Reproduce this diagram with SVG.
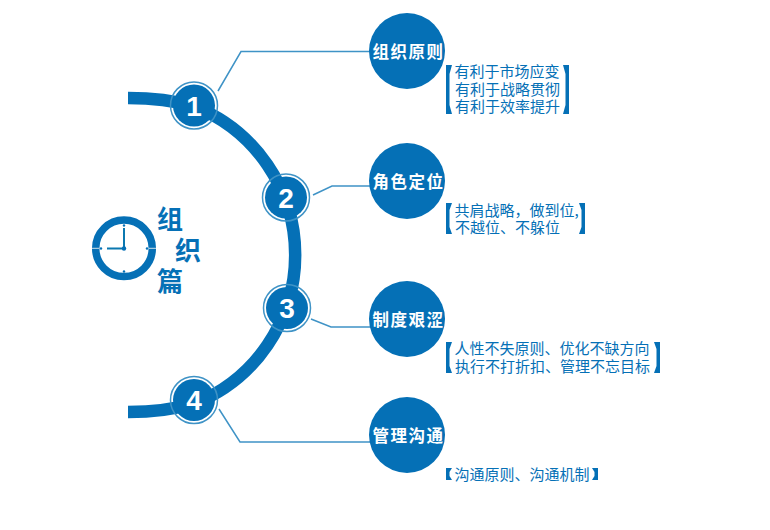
<svg xmlns="http://www.w3.org/2000/svg" width="770" height="530" viewBox="0 0 770 530">
<style>
.big{fill:#0570b6}
.ring{fill:none;stroke:#3f93c6;stroke-width:1.5}
.num{font-family:"Liberation Sans",sans-serif;font-weight:700;font-size:28px;fill:#fff;text-anchor:middle}
.title{font-family:"Noto Sans CJK SC",sans-serif;font-weight:700;font-size:16.500px;fill:#fff;text-anchor:middle;letter-spacing:1.500px}
.body{font-family:"Noto Sans CJK SC",sans-serif;font-size:15px;fill:#0570b6}
.head{font-family:"Noto Sans CJK SC",sans-serif;font-weight:700;font-size:26px;fill:#0570b6;text-anchor:middle}
.conn{fill:none;stroke:#3f93c6;stroke-width:1.5}
.br{fill:#0570b6}
.tick{fill:#0570b6}
</style>
<g id="connectors">
<path class="conn" d="M218 91L241 51.500H372"/>
<path class="conn" d="M313 195L332 186H372"/>
<path class="conn" d="M311 319L331 327H372"/>
<path class="conn" d="M219 409L240 442H372"/>
</g>
<g id="arc"><path d="M128 98Q165 98 194 106.200A160 160 0 0 1 194 403.800Q165 412 128 412" fill="none" stroke="#0570b6" stroke-width="12.500"/></g>
<g id="step1"><circle class="big" cx="194" cy="105.500" r="21"/><circle class="ring" cx="194" cy="105.500" r="23.500"/><text class="num" x="194" y="115.500">1</text></g>
<g id="step2"><circle class="big" cx="286" cy="197.500" r="21"/><circle class="ring" cx="286" cy="197.500" r="23.500"/><text class="num" x="286" y="207.500">2</text></g>
<g id="step3"><circle class="big" cx="287" cy="308" r="21"/><circle class="ring" cx="287" cy="308" r="23.500"/><text class="num" x="287" y="318">3</text></g>
<g id="step4"><circle class="big" cx="194" cy="400" r="21"/><circle class="ring" cx="194" cy="400" r="23.500"/><text class="num" x="194" y="410">4</text></g>
<g id="clock">
<circle cx="124" cy="248.300" r="28.300" fill="none" stroke="#0570b6" stroke-width="7.500"/>
<path d="M92 248.300H99.500M148.500 248.300H156" stroke="#cfe3ea" stroke-width="1"/>
<path d="M124 228V248.500H107" fill="none" stroke="#0b78b0" stroke-width="2"/>
<circle cx="124" cy="248.500" r="2.200" fill="#0570b6"/>
<circle class="tick" cx="124" cy="225.500" r="1.200"/><circle class="tick" cx="124" cy="271.500" r="1.200"/><circle class="tick" cx="147" cy="248.500" r="1.200"/><circle class="tick" cx="101" cy="248.500" r="1.200"/>
</g>
<g id="heading">
<text class="head" x="170" y="229">组</text>
<text class="head" x="188" y="260">织</text>
<text class="head" x="170" y="291">篇</text>
</g>
<g id="node1"><circle class="big" cx="407" cy="51" r="38"/><text class="title" x="408.500" y="58">组织原则</text>
<path class="br" d="M446 65H452L449.500 74V105L452 114H446Z"/><path class="br" d="M569 65H563L565.500 74V105L563 114H569Z"/>
<text class="body" x="454.500" y="77">有利于市场应变</text><text class="body" x="455" y="95">有利于战略贯彻</text><text class="body" x="455" y="112">有利于效率提升</text></g>
<g id="node2"><circle class="big" cx="407" cy="181" r="38"/><text class="title" x="408.500" y="188">角色定位</text>
<path class="br" d="M446 203H452L449.500 210V227L452 234H446Z"/><path class="br" d="M585 203H579L581.500 210V227L579 234H585Z"/>
<text class="body" x="454.500" y="216">共肩战略，做到位,</text><text class="body" x="455" y="233">不越位、不躲位</text></g>
<g id="node3"><circle class="big" cx="407" cy="319" r="38"/><text class="title" x="408.500" y="326">制度艰涩</text>
<path class="br" d="M446 342H452L449.500 349V366L452 373H446Z"/><path class="br" d="M660 342H654L656.500 349V366L654 373H660Z"/>
<text class="body" x="454.500" y="354">人性不失原则、优化不缺方向</text><text class="body" x="455" y="372">执行不打折扣、管理不忘目标</text></g>
<g id="node4"><circle class="big" cx="407" cy="435" r="38"/><text class="title" x="408.500" y="442">管理沟通</text>
<path class="br" d="M446 468H452L449.500 472V476L452 480H446Z"/><path class="br" d="M598 468H592L594.500 472V476L592 480H598Z"/>
<text class="body" x="454.500" y="480">沟通原则、沟通机制</text></g>
</svg>
